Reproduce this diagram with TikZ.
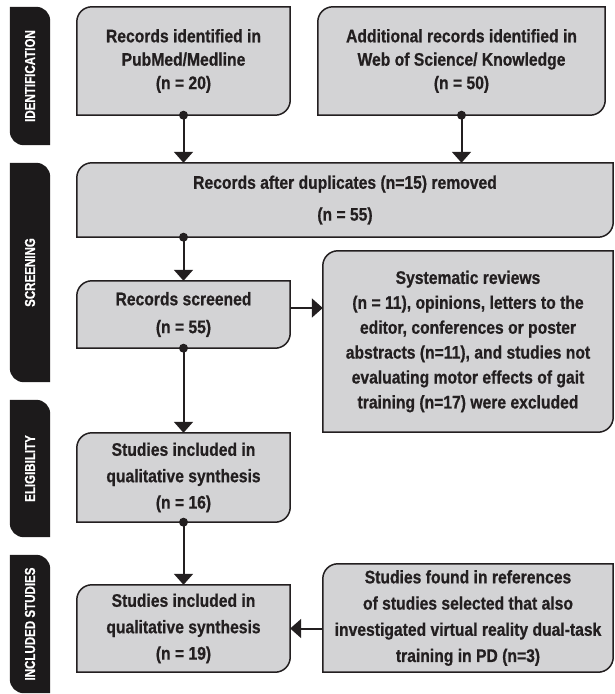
\documentclass[tikz,border=0pt]{standalone}
\usepackage{fontspec}
\usepackage{graphicx}
\setmainfont{Liberation Sans}
\newfontfamily\boxfont[FakeStretch=0.86,FakeBold=0.7]{Liberation Sans Bold}
\newfontfamily\tabfont[FakeStretch=0.8,FakeBold=0.5]{Liberation Sans Bold}
\usetikzlibrary{arrows.meta,backgrounds}
\definecolor{ink}{HTML}{231F20}
\definecolor{boxgray}{HTML}{D3D3D5}
\definecolor{tabblack}{HTML}{1C1A1B}
\tikzset{
  flowbox/.style={draw=none, align=center, text=ink, inner sep=0pt,
    font=\boxfont\fontsize{18.3}{#1}\selectfont},
  flowbox/.default=25,
  tablabel/.style={draw=none, inner sep=0pt, text=white,
    font=\tabfont\fontsize{14.5}{16}\selectfont},
  shapeline/.style={draw=ink, fill=boxgray, line width=1.5bp},
  tabshape/.style={fill=tabblack},
  conn/.style={draw=ink, line width=2bp, -{Triangle[width=19bp,length=11bp]}},
  dotmark/.style={fill=ink}
}
\newcommand\flowshape[1]{%
  \path[shapeline] (#1.south west) -- ([yshift=-15bp]#1.north west)
    arc[start angle=180,end angle=90,radius=15bp] -- (#1.north east)
    -- ([yshift=15bp]#1.south east)
    arc[start angle=0,end angle=-90,radius=15bp] -- cycle;}
\newcommand\tabpath[1]{%
  \path[tabshape] (#1.north west) -- ([xshift=-14bp]#1.north east)
    arc[start angle=90,end angle=0,radius=14bp] -- (#1.south east)
    -- ([xshift=14bp]#1.south west)
    arc[start angle=270,end angle=180,radius=14bp] -- cycle;}
\begin{document}
\begin{tikzpicture}[x=1bp,y=1bp]
\useasboundingbox (0,0) rectangle (615,-694);

% side tabs
\node[tablabel, minimum width=40bp, minimum height=138bp] (t1) at (30,-76) {\rotatebox{90}{IDENTIFICATION}};
\node[tablabel, minimum width=40bp, minimum height=219bp] (t2) at (30,-272.5) {\rotatebox{90}{SCREENING}};
\node[tablabel, minimum width=40bp, minimum height=137bp] (t3) at (30,-468.5) {\rotatebox{90}{ELIGIBILITY}};
\node[tablabel, minimum width=40bp, minimum height=138bp] (t4) at (30,-624) {\rotatebox{90}{INCLUDED STUDIES}};

% boxes
\node[flowbox=23.5, minimum width=213bp, minimum height=108bp] (b1) at (183.5,-61)
  {Records identified in\\PubMed/Medline\\(n = 20)};
\node[flowbox=23.5, minimum width=287bp, minimum height=108bp] (b2) at (461.5,-61)
  {Additional records identified in\\Web of Science/ Knowledge\\(n = 50)};
\node[flowbox=32, minimum width=536bp, minimum height=74bp] (b3) at (345,-200)
  {Records after duplicates (n=15) removed\\(n = 55)};
\node[flowbox=28, minimum width=213bp, minimum height=67bp] (b4) at (183.5,-314.5)
  {Records screened\\(n = 55)};
\node[flowbox=25, minimum width=290bp, minimum height=181bp] (b5) at (468,-341.5)
  {Systematic reviews\\(n = 11), opinions, letters to the\\editor, conferences or poster\\abstracts (n=11), and studies not\\evaluating motor effects of gait\\training (n=17) were excluded};
\node[flowbox=26.5, minimum width=213bp, minimum height=89bp] (b6) at (183.5,-477.5)
  {Studies included in\\qualitative synthesis\\(n = 16)};
\node[flowbox=26.5, minimum width=213bp, minimum height=87bp] (b7) at (183.5,-628.5)
  {Studies included in\\qualitative synthesis\\(n = 19)};
\node[flowbox=26.3, minimum width=290bp, minimum height=108bp] (b8) at (468,-618)
  {Studies found in references\\of studies selected that also\\investigated virtual reality dual-task\\training in PD (n=3)};

\begin{scope}[on background layer]
  \tabpath{t1}\tabpath{t2}\tabpath{t3}\tabpath{t4}
  \flowshape{b1}\flowshape{b2}\flowshape{b3}\flowshape{b4}
  \flowshape{b5}\flowshape{b6}\flowshape{b7}\flowshape{b8}
\end{scope}

% connectors
\draw[conn] (b1.south) -- (b1.south |- b3.north);
\draw[conn] (b2.south) -- (b2.south |- b3.north);
\draw[conn] (b4.north |- b3.south) -- (b4.north);
\draw[conn] ([yshift=6.5bp]b4.east) -- ([yshift=6.5bp]b4.east -| b5.west);
\draw[conn] (b4.south) -- (b6.north);
\draw[conn] (b6.south) -- (b7.north);
\draw[conn] (b8.west |- b7.east) -- (b7.east);

% dots
\fill[dotmark] (b1.south) circle[radius=4.5bp];
\fill[dotmark] (b2.south) circle[radius=4.5bp];
\fill[dotmark] (b4.north |- b3.south) circle[radius=4.5bp];
\fill[dotmark] (b4.south) circle[radius=4.5bp];
\fill[dotmark] (b6.south) circle[radius=4.5bp];
\end{tikzpicture}
\end{document}
